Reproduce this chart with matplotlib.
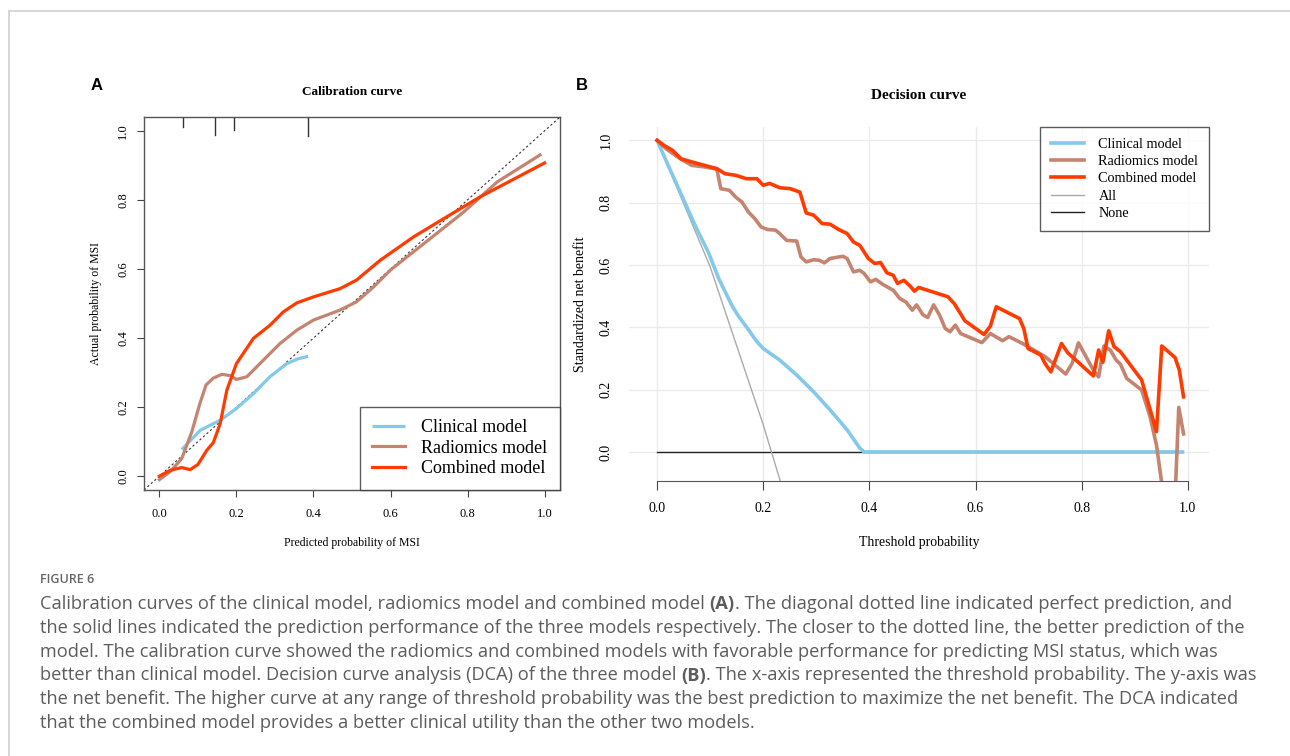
import numpy as np
import matplotlib.pyplot as plt
from matplotlib.lines import Line2D

# ---- calibration curve (panel A) ----
clin_cal_x = [0.058, 0.106, 0.158, 0.200, 0.244, 0.287, 0.331, 0.360, 0.386]
clin_cal_y = [0.077, 0.133, 0.162, 0.196, 0.239, 0.288, 0.326, 0.340, 0.347]

rad_cal_x = [0.0, 0.028, 0.058, 0.084, 0.105, 0.121, 0.140, 0.162, 0.185, 0.200, 0.227,
             0.270, 0.313, 0.357, 0.400, 0.469, 0.512, 0.556, 0.600, 0.660, 0.720,
             0.790, 0.877, 0.988]
rad_cal_y = [-0.010, 0.013, 0.051, 0.128, 0.210, 0.264, 0.284, 0.295, 0.291, 0.280, 0.288,
             0.336, 0.384, 0.423, 0.452, 0.481, 0.505, 0.548, 0.597, 0.650, 0.703,
             0.765, 0.852, 0.930]

comb_cal_x = [0.0, 0.028, 0.058, 0.080, 0.100, 0.123, 0.140, 0.158, 0.175, 0.200, 0.244,
              0.287, 0.322, 0.357, 0.400, 0.469, 0.512, 0.573, 0.660, 0.746, 0.833, 1.0]
comb_cal_y = [0.0, 0.017, 0.025, 0.019, 0.034, 0.075, 0.097, 0.153, 0.249, 0.326, 0.399,
              0.437, 0.476, 0.502, 0.519, 0.543, 0.568, 0.625, 0.693, 0.751, 0.809, 0.907]

# rug of predicted probabilities at the top of panel A
rug_x = [0.060, 0.145, 0.194, 0.387]
rug_len = [0.029, 0.051, 0.039, 0.055]

# ---- decision curve (panel B) ----
clin_dca_x = [0.0, 0.025, 0.049, 0.073, 0.097, 0.116, 0.140, 0.152, 0.168, 0.188, 0.200,
              0.231, 0.263, 0.295, 0.326, 0.358, 0.382, 0.390, 0.99]
clin_dca_y = [1.0, 0.904, 0.813, 0.722, 0.639, 0.557, 0.473, 0.439, 0.402, 0.354, 0.332,
              0.295, 0.247, 0.193, 0.135, 0.071, 0.012, 0.0, 0.0]

rad_dca_x = [0.0, 0.017, 0.041, 0.065, 0.089, 0.109, 0.113, 0.120, 0.136, 0.148, 0.160,
             0.172, 0.184, 0.196, 0.208, 0.223, 0.231, 0.244, 0.263, 0.271, 0.281,
             0.295, 0.306, 0.315, 0.326, 0.350, 0.358, 0.370, 0.382, 0.390, 0.402,
             0.412, 0.426, 0.445, 0.457, 0.469, 0.481, 0.489, 0.501, 0.510, 0.521,
             0.532, 0.543, 0.552, 0.562, 0.572, 0.612, 0.628, 0.651, 0.663, 0.691,
             0.731, 0.770, 0.782, 0.794, 0.822, 0.832, 0.842, 0.854, 0.865, 0.873,
             0.885, 0.913, 0.929, 0.941, 0.955, 0.976, 0.983, 0.992]
rad_dca_y = [1.0, 0.973, 0.944, 0.920, 0.915, 0.909, 0.904, 0.845, 0.840, 0.818, 0.802,
             0.770, 0.749, 0.722, 0.714, 0.712, 0.701, 0.679, 0.677, 0.626, 0.610,
             0.617, 0.615, 0.607, 0.621, 0.628, 0.621, 0.578, 0.583, 0.573, 0.546,
             0.554, 0.537, 0.519, 0.493, 0.481, 0.455, 0.472, 0.440, 0.432, 0.472,
             0.440, 0.396, 0.386, 0.407, 0.380, 0.351, 0.380, 0.357, 0.370, 0.346,
             0.306, 0.250, 0.284, 0.350, 0.263, 0.241, 0.340, 0.327, 0.295, 0.282,
             0.236, 0.199, 0.113, 0.022, -0.15, -0.15, 0.143, 0.058]

comb_dca_x = [0.0, 0.013, 0.029, 0.045, 0.065, 0.089, 0.113, 0.128, 0.148, 0.168, 0.188,
              0.200, 0.212, 0.231, 0.251, 0.269, 0.281, 0.295, 0.311, 0.326, 0.342,
              0.358, 0.370, 0.382, 0.398, 0.410, 0.421, 0.433, 0.445, 0.453, 0.465,
              0.477, 0.485, 0.493, 0.548, 0.560, 0.580, 0.616, 0.628, 0.639, 0.683,
              0.691, 0.699, 0.723, 0.731, 0.742, 0.762, 0.774, 0.822, 0.832, 0.840,
              0.851, 0.861, 0.873, 0.913, 0.941, 0.951, 0.976, 0.984, 0.992]
comb_dca_y = [1.0, 0.984, 0.968, 0.941, 0.931, 0.920, 0.909, 0.893, 0.888, 0.877, 0.877,
              0.856, 0.862, 0.848, 0.845, 0.834, 0.767, 0.760, 0.733, 0.731, 0.714,
              0.701, 0.674, 0.663, 0.621, 0.605, 0.608, 0.575, 0.567, 0.541, 0.551,
              0.532, 0.516, 0.528, 0.498, 0.476, 0.421, 0.377, 0.404, 0.466, 0.428,
              0.396, 0.332, 0.311, 0.284, 0.257, 0.348, 0.318, 0.244, 0.327, 0.288,
              0.389, 0.338, 0.322, 0.231, 0.065, 0.340, 0.303, 0.263, 0.177]

all_x = [0.0, 0.1, 0.2, 0.235]
all_y = [1.0, 0.594, 0.087, -0.11]
none_x = [0.0, 0.99]
none_y = [0.0, 0.0]

caption_head = "FIGURE 6"
caption_lines = [
    [("Calibration curves of the clinical model, radiomics model and combined model ", "normal"),
     ("(A)", "bold"),
     (". The diagonal dotted line indicated perfect prediction, and", "normal")],
    [("the solid lines indicated the prediction performance of the three models respectively. "
      "The closer to the dotted line, the better prediction of the", "normal")],
    [("model. The calibration curve showed the radiomics and combined models with favorable "
      "performance for predicting MSI status, which was", "normal")],
    [("better than clinical model. Decision curve analysis (DCA) of the three model ", "normal"),
     ("(B)", "bold"),
     (". The x-axis represented the threshold probability. The y-axis was", "normal")],
    [("the net benefit. The higher curve at any range of threshold probability was the best "
      "prediction to maximize the net benefit. The DCA indicated", "normal")],
    [("that the combined model provides a better clinical utility than the other two models.", "normal")],
]

BLUE = "#82C9EA"
BROWN = "#C48470"
RED = "#FF3B00"
SERIF = ["Liberation Serif", "DejaVu Serif"]
W, H = 1290, 756


def fx(px):
    return px / W


def fy(py):
    return 1 - py / H


fig = plt.figure(figsize=(12.9, 7.56), dpi=100)
fig.patch.set_facecolor("white")

# thin page frame
fig.add_artist(Line2D([fx(9), fx(9)], [fy(11), 0], color="#cfcfcf", lw=1.2))
fig.add_artist(Line2D([fx(9), 1], [fy(11), fy(11)], color="#cfcfcf", lw=1.2))

# ---------------- Panel A ----------------
axA = fig.add_axes([fx(144), fy(490), fx(560) - fx(144), fy(117) - fy(490)])
axA.set_xlim(-0.04, 1.04)
axA.set_ylim(-0.04, 1.04)
axA.plot([-0.04, 1.04], [-0.04, 1.04], color="#333333", lw=0.8, ls=(0, (2, 2.2)))
axA.plot(clin_cal_x, clin_cal_y, color=BLUE, lw=2.3, label="Clinical model", solid_capstyle="butt")
axA.plot(rad_cal_x, rad_cal_y, color=BROWN, lw=2.3, label="Radiomics model")
axA.plot(comb_cal_x, comb_cal_y, color=RED, lw=2.3, label="Combined model")
for x, h in zip(rug_x, rug_len):
    axA.plot([x, x], [1.04, 1.04 - h], color="#333333", lw=1.0)

ticks = [0.0, 0.2, 0.4, 0.6, 0.8, 1.0]
axA.set_xticks(ticks)
axA.set_yticks(ticks)
axA.set_xticklabels([f"{t:.1f}" for t in ticks], fontfamily=SERIF, fontsize=9)
axA.set_yticklabels([f"{t:.1f}" for t in ticks], fontfamily=SERIF, fontsize=9,
                    rotation=90, va="center")
axA.tick_params(axis="both", direction="out", length=5, width=0.8, color="#444444")
axA.tick_params(axis="x", pad=8)
axA.tick_params(axis="y", pad=5.5)
for s in axA.spines.values():
    s.set_color("#555555")
    s.set_linewidth(1.0)
axA.set_xlabel("Predicted probability of MSI", fontfamily=SERIF, fontsize=8.5, labelpad=12)
axA.set_ylabel("Actual probability of MSI", fontfamily=SERIF, fontsize=8.5, labelpad=11)
axA.set_title("Calibration curve", fontfamily=SERIF, fontsize=9.5, fontweight="bold", pad=16)
legA = axA.legend(loc="lower right", borderaxespad=0, fancybox=False, frameon=True,
                  prop={"family": SERIF, "size": 13}, handlelength=1.8, borderpad=0.7,
                  labelspacing=0.2, handletextpad=0.9)
legA.get_frame().set_edgecolor("#333333")
legA.get_frame().set_linewidth(1.0)

# ---------------- Panel B ----------------
axB = fig.add_axes([fx(629), fy(480.6), fx(1209) - fx(629), fy(127) - fy(480.6)])
axB.set_xlim(-0.053, 1.04)
axB.set_ylim(-0.092, 1.043)
for v in ticks:
    axB.axvline(v, color="#ebebeb", lw=1.0, zorder=0)
    axB.axhline(v, color="#ebebeb", lw=1.0, zorder=0)
axB.plot(none_x, none_y, color="#222222", lw=1.0, label="None")
axB.plot(all_x, all_y, color="#aaaaaa", lw=1.0, label="All")
l1, = axB.plot(clin_dca_x, clin_dca_y, color=BLUE, lw=2.6, label="Clinical model")
l2, = axB.plot(rad_dca_x, rad_dca_y, color=BROWN, lw=2.6, label="Radiomics model")
l3, = axB.plot(comb_dca_x, comb_dca_y, color=RED, lw=2.6, label="Combined model")
h_all = Line2D([], [], color="#aaaaaa", lw=1.0)
h_none = Line2D([], [], color="#222222", lw=1.0)

for s in ["top", "right", "left"]:
    axB.spines[s].set_visible(False)
axB.spines["bottom"].set_bounds(0, 1)
axB.spines["bottom"].set_color("#555555")
axB.set_xticks(ticks)
axB.set_yticks(ticks)
axB.set_xticklabels([f"{t:.1f}" for t in ticks], fontfamily=SERIF, fontsize=10)
axB.set_yticklabels([f"{t:.1f}" for t in ticks], fontfamily=SERIF, fontsize=10,
                    rotation=90, va="center")
axB.tick_params(axis="x", direction="out", length=6.5, width=0.8, color="#444444", pad=9)
axB.tick_params(axis="y", length=0, pad=12)
axB.set_xlabel("Threshold probability", fontfamily=SERIF, fontsize=10, labelpad=15)
axB.set_ylabel("Standardized net benefit", fontfamily=SERIF, fontsize=10, labelpad=9)
axB.set_title("Decision curve", fontfamily=SERIF, fontsize=11, fontweight="bold", pad=20)
legB = axB.legend([l1, l2, l3, h_all, h_none],
                  ["Clinical model", "Radiomics model", "Combined model", "All", "None"],
                  loc="upper right", borderaxespad=0, fancybox=False,
                  prop={"family": SERIF, "size": 10.3}, handlelength=2.3, borderpad=0.75,
                  labelspacing=0.3, handletextpad=1.0)
legB.get_frame().set_edgecolor("#333333")
legB.get_frame().set_linewidth(1.0)

# panel letters
fig.text(fx(97), fy(86), "A", fontsize=12, fontweight="bold", fontfamily="Liberation Sans",
         ha="center", va="center")
fig.text(fx(582), fy(86), "B", fontsize=12, fontweight="bold", fontfamily="Liberation Sans",
         ha="center", va="center")

# ---------------- caption ----------------
cap_font = "Open Sans"
cap_color = "#5c5c5c"
fig.text(fx(40), fy(583), caption_head, fontsize=9, fontfamily=cap_font, fontweight="semibold",
         color="#666666", va="baseline")

renderer = fig.canvas.get_renderer()
# fit the caption size to the width of the first line in the reference
probe = fig.text(0, 0, "".join(p[0] for p in caption_lines[0]), fontsize=12, fontfamily=cap_font)
w = probe.get_window_extent(renderer).width
probe.remove()
cap_size = 12 * (1222 - 40) / w

baselines = [609, 633, 657, 680.5, 704, 728]
for parts, yb in zip(caption_lines, baselines):
    x = fx(40)
    for txt, weight in parts:
        t = fig.text(x, fy(yb), txt, fontsize=cap_size, fontfamily=cap_font, fontweight=weight,
                     color=cap_color, va="baseline")
        x += t.get_window_extent(renderer).width / fig.bbox.width

fig.savefig("out.png", dpi=100, facecolor="white")
